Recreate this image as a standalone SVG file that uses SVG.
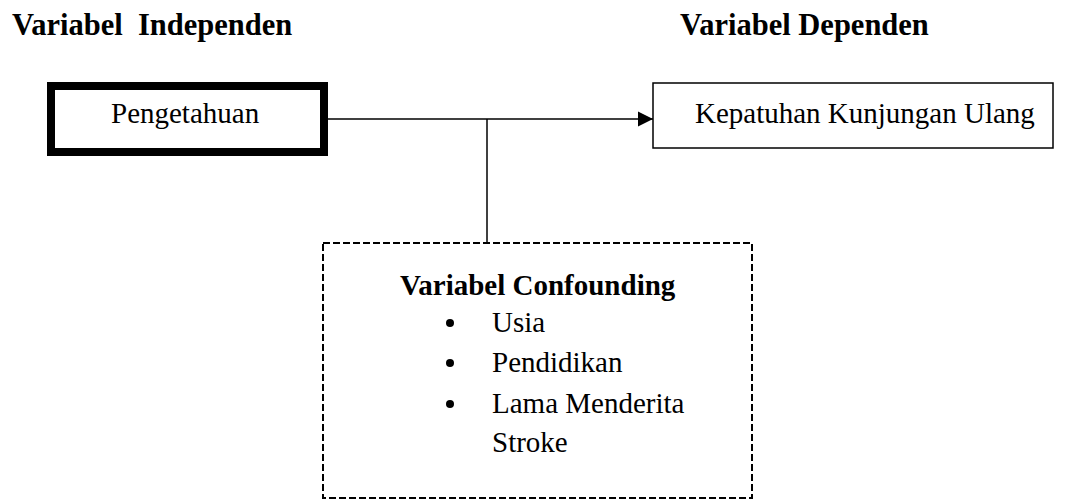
<svg xmlns="http://www.w3.org/2000/svg" width="1077" height="504" viewBox="0 0 1077 504">
<style>
text{font-family:"Liberation Serif","Times New Roman",serif;fill:#000;white-space:pre}
.b{font-weight:bold}
.h{font-size:30.5px;font-weight:bold}
.t{font-size:29px}
.ln{stroke:#000;stroke-width:1.5;fill:none}
</style>
<defs>
<marker id="arr" markerWidth="16" markerHeight="16" refX="15" refY="8" orient="auto" markerUnits="userSpaceOnUse">
<path d="M0,0.5 L15,8 L0,15.5 Z" fill="#000"/>
</marker>
</defs>
<g id="headers">
<text class="h" x="12" y="35" xml:space="preserve">Variabel  Independen</text>
<text class="h" x="680" y="35">Variabel Dependen</text>
</g>
<g id="connectors">
<line class="ln" x1="328" y1="119" x2="653" y2="119" marker-end="url(#arr)"/>
<line class="ln" x1="487" y1="119" x2="487" y2="243"/>
</g>
<g id="node-pengetahuan">
<rect x="51" y="86" width="273" height="66" fill="#fff" stroke="#000" stroke-width="8"/>
<text class="t" x="111" y="123">Pengetahuan</text>
</g>
<g id="node-kepatuhan">
<rect x="653" y="83" width="400" height="65" fill="#fff" stroke="#000" stroke-width="1.5"/>
<text class="t" x="695" y="123">Kepatuhan Kunjungan Ulang</text>
</g>
<g id="node-confounding">
<rect x="323" y="243" width="429" height="255" fill="#fff" stroke="#000" stroke-width="2" stroke-dasharray="7,3"/>
<text class="t b" x="400" y="295">Variabel Confounding</text>
<circle cx="450" cy="323" r="4"/>
<text class="t" x="492" y="332">Usia</text>
<circle cx="450" cy="363" r="4"/>
<text class="t" x="492" y="372">Pendidikan</text>
<circle cx="450" cy="404" r="4"/>
<text class="t" x="492" y="413">Lama Menderita</text>
<text class="t" x="492" y="452">Stroke</text>
</g>
</svg>
